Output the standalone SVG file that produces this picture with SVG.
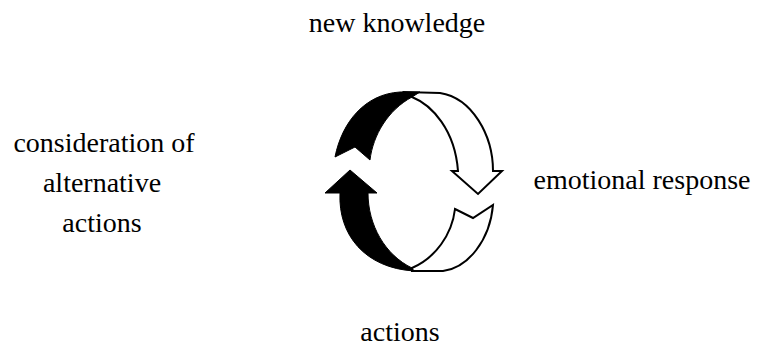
<svg xmlns="http://www.w3.org/2000/svg" width="765" height="356" viewBox="0 0 765 356">
  <style>
    text { font-family: "Times New Roman", "Liberation Serif", serif; font-size: 28px; fill: #000; text-anchor: middle; }
    .band-light { fill: #fff; stroke: #000; stroke-width: 2; stroke-linejoin: miter; }
    .band-dark { fill: #000; stroke: #000; stroke-width: 1; }
  </style>
  <rect width="765" height="356" fill="#fff"/>

  <!-- cycle of circular arrows -->
  <g id="cycle">
    <!-- right-hand light band, upper half, ending in a down arrow -->
    <path class="band-light" d="M412,97 C432,105 455,130 458,171 L452,171 L478,194 L502,171 L493,171 C493,135 472,98 440,93 L405,92 Z"/>
    <!-- right-hand light band, lower half, notched tail -->
    <path class="band-light" d="M455,209 L473,218 L493,205 C490,240 468,268 443,271 L412,271 L412,268 C435,258 452,235 455,209 Z"/>
    <!-- left-hand dark band, upper half, notched tail -->
    <path class="band-dark" d="M335,157 L355,147 L370,160 C373,135 388,110 412,97 L420,92 L400,92 C365,94 342,122 335,157 Z"/>
    <!-- left-hand dark band, lower half, ending in an up arrow -->
    <path class="band-dark" d="M350,170 L377,193 L368,193 C368,225 385,255 412,268 L414,271 C365,268 338,235 340,193 L325,193 Z"/>
  </g>

  <g id="new-knowledge">
    <text x="397" y="32">new knowledge</text>
  </g>
  <g id="emotional-response">
    <text x="642" y="189">emotional response</text>
  </g>
  <g id="actions">
    <text x="400" y="341">actions</text>
  </g>
  <g id="consideration">
    <text x="104" y="152">consideration of</text>
    <text x="102" y="192">alternative</text>
    <text x="102" y="232">actions</text>
  </g>
</svg>
